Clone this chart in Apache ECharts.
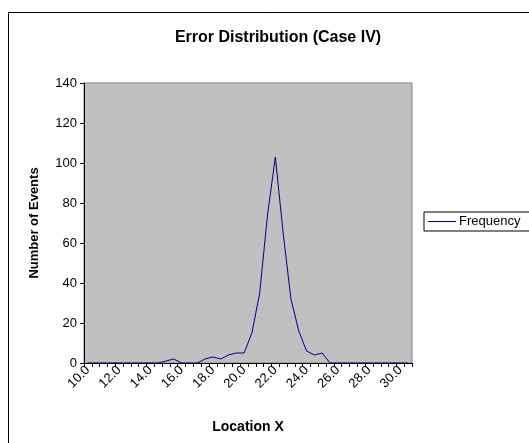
<!DOCTYPE html>
<html>
<head>
<meta charset="utf-8">
<script src="https://cdn.jsdelivr.net/npm/echarts@6/dist/echarts.min.js"></script>
<style>
  html, body { margin: 0; padding: 0; background: #ffffff; }
  #chart { width: 529px; height: 443px; }
</style>
</head>
<body>
<div id="chart"></div>
<script>
// Location bins along X (step 0.5)
const locations = ['10.0','10.5','11.0','11.5','12.0','12.5','13.0','13.5','14.0','14.5',
                   '15.0','15.5','16.0','16.5','17.0','17.5','18.0','18.5','19.0','19.5',
                   '20.0','20.5','21.0','21.5','22.0','22.5','23.0','23.5','24.0','24.5',
                   '25.0','25.5','26.0','26.5','27.0','27.5','28.0','28.5','29.0','29.5',
                   '30.0','30.5'];

// Number of events per bin
const frequency = [0, 0, 0, 0, 0, 0, 0, 0, 0, 0,
                   1, 2, 0, 0, 0, 2, 3, 2, 4, 5,
                   5, 15, 35, 74, 103, 65, 32, 16, 6, 4,
                   5, 0, 0, 0, 0, 0, 0, 0, 0, 0,
                   0, 0];

// Value axis range
const yMin = 0;
const yMax = 140;
const yStep = 20;

const FONT = '"Liberation Sans", Arial, sans-serif';

const chart = echarts.init(document.getElementById('chart'), null, { renderer: 'canvas' });

chart.setOption({
  animation: false,
  backgroundColor: '#ffffff',
  title: {
    text: 'Error Distribution (Case IV)',
    left: 273,
    top: 25,
    textAlign: 'center',
    textStyle: { fontFamily: FONT, fontSize: 16, fontWeight: 'bold', color: '#000000' }
  },
  legend: {
    left: 424,
    top: 212,
    orient: 'vertical',
    padding: [3, 40, 3, 4],
    borderColor: '#000000',
    borderWidth: 1,
    itemWidth: 28,
    itemHeight: 1,
    itemGap: 4,
    textStyle: { fontFamily: FONT, fontSize: 13, color: '#000000', padding: [0, 0, 0, -2] },
    data: [{ name: 'Frequency', icon: 'rect' }]
  },
  grid: {
    left: 84,
    right: 117,
    top: 83,
    bottom: 80,
    show: true,
    backgroundColor: '#C0C0C0',
    borderColor: '#808080',
    borderWidth: 1
  },
  xAxis: {
    type: 'category',
    data: locations,
    boundaryGap: true,
    name: 'Location X',
    nameLocation: 'middle',
    nameGap: 57,
    nameTextStyle: { fontFamily: FONT, fontSize: 14, fontWeight: 'bold', color: '#000000' },
    axisLine: { lineStyle: { color: '#000000', width: 1 } },
    axisTick: { show: true, interval: 0, length: 4, lineStyle: { color: '#000000' } },
    axisLabel: {
      interval: 3,
      rotate: 45,
      margin: 5,
      fontFamily: FONT,
      fontSize: 13,
      color: '#000000'
    },
    splitLine: { show: false }
  },
  yAxis: {
    type: 'value',
    min: yMin,
    max: yMax,
    interval: yStep,
    name: 'Number of Events',
    nameLocation: 'middle',
    nameGap: 43,
    nameTextStyle: { fontFamily: FONT, fontSize: 13, fontWeight: 'bold', color: '#000000' },
    axisLine: { show: true, lineStyle: { color: '#000000', width: 1 } },
    axisTick: { show: true, length: 4, lineStyle: { color: '#000000' } },
    axisLabel: { margin: 7, fontFamily: FONT, fontSize: 13, color: '#000000' },
    splitLine: { show: false }
  },
  series: [{
    name: 'Frequency',
    type: 'line',
    data: frequency,
    symbol: 'none',
    smooth: false,
    lineStyle: { color: '#000080', width: 1 },
    itemStyle: { color: '#000080' }
  }],
  graphic: [{
    type: 'rect',
    silent: true,
    shape: { x: 8.5, y: 12.5, width: 600, height: 500 },
    style: { fill: 'none', stroke: '#000000', lineWidth: 1 }
  }]
});
</script>
</body>
</html>
